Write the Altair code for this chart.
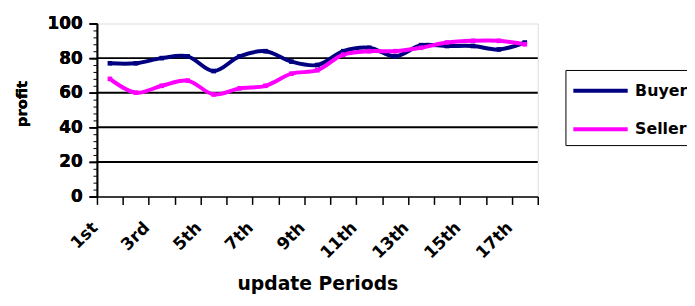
import altair as alt
import pandas as pd

periods = ["1st", "2nd", "3rd", "4th", "5th", "6th", "7th", "8th", "9th",
           "10th", "11th", "12th", "13th", "14th", "15th", "16th", "17th"]
buyer = [77, 77, 80, 81, 72.5, 81, 84, 78, 76, 84, 86, 81, 87.5, 87, 87, 85, 89]
seller = [68, 60, 64, 67, 59, 62.5, 64, 71, 73, 82, 84, 84, 86, 89, 90, 90, 88]
series_names = ["Buyer", "Seller"]
series_colors = ["#000080", "#FF00FF"]
y_ticks = [0, 20, 40, 60, 80, 100]
grid_values = [20, 40, 60, 80]
minor_ticks = list(range(0, 101, 4))

rows = []
for i, p in enumerate(periods):
    rows.append({"pos": i + 0.5, "period": p, "series": "Buyer", "profit": buyer[i]})
    rows.append({"pos": i + 0.5, "period": p, "series": "Seller", "profit": seller[i]})
df = pd.DataFrame(rows)
grid_df = pd.DataFrame({"profit": grid_values})

n = len(periods)
label_list = [p if i % 2 == 0 else "" for i, p in enumerate(periods)] + [""]
label_expr = "[" + ",".join("'%s'" % l for l in label_list) + "][datum.value]"

WIDE = "DejaVu Sans"

xscale = alt.Scale(domain=[0, n], nice=False, zero=False)
yscale = alt.Scale(domain=[0, 100], nice=False)

x_axis = alt.Axis(
    values=list(range(n + 1)), labelExpr=label_expr, title="update Periods",
    grid=False, labelAngle=-45, labelAlign="right", labelBaseline="top",
    labelFont=WIDE, labelFontSize=17, labelFontWeight="bold", labelColor="black",
    labelPadding=15, labelOffset=-8, labelOverlap=False, labelBound=False, labelFlush=False,
    tickSize=8, tickColor="black", tickWidth=1.5, domainColor="black", domainWidth=1.5,
    titleFont=WIDE, titleFontSize=19, titleFontWeight="bold", titleColor="black",
    titleX=223, titleY=88, titleBaseline="middle", titleAlign="center", titleAnchor="middle")

y_axis = alt.Axis(
    values=y_ticks, title="profit", grid=False, orient="left",
    labelFont=WIDE, labelFontSize=17, labelFontWeight="bold", labelColor="black",
    labelPadding=7, tickSize=8, tickColor="black", tickWidth=1.5,
    domainColor="black", domainWidth=1.5,
    titleFont=WIDE, titleFontSize=15, titleFontWeight="bold", titleColor="black",
    titleX=-76, titleY=81, titleAngle=270, titleBaseline="middle", titleAlign="center")

x_main = alt.X("pos:Q", scale=xscale, axis=x_axis)
y_main = alt.Y("profit:Q", scale=yscale, axis=y_axis)

color_scale = alt.Scale(domain=series_names, range=series_colors)
color = alt.Color("series:N", scale=color_scale,
                  legend=alt.Legend(orient="none", legendX=474, legendY=47, title=None,
                                    symbolType="M-2.5,0H2.5", symbolStrokeWidth=4, symbolSize=484,
                                    symbolOffset=14.5,
                                    labelFont=WIDE, labelFontSize=16, labelFontWeight="bold",
                                    labelColor="black", strokeColor="black", fillColor="white",
                                    padding=8, rowPadding=18, labelOffset=22))

grid = alt.Chart(grid_df).mark_rule(color="black", strokeWidth=2).encode(
    y=alt.Y("profit:Q", scale=yscale, axis=y_axis))

minor = alt.Chart(grid_df).mark_rule(opacity=0).encode(
    y=alt.Y("profit:Q", scale=yscale, axis=alt.Axis(
        values=minor_ticks, labels=False, domain=False, grid=False, title=None,
        orient="left", tickSize=4, tickColor="black", tickWidth=1)))

lines = alt.Chart(df).mark_line(interpolate="catmull-rom", strokeWidth=4).encode(
    x=x_main, y=y_main, color=color, detail="series:N")

points = alt.Chart(df).mark_point(shape="square", filled=True, size=22, opacity=1).encode(
    x=x_main, y=y_main, color=alt.Color("series:N", scale=color_scale, legend=None))

chart = alt.layer(grid, minor, lines, points).resolve_axis(y="independent").properties(
    width=446, height=175,
    autosize=alt.AutoSizeParams(type="none"),
    padding={"left": 90, "top": 14, "right": 151, "bottom": 101},
).configure_view(fill="#C0C0C0", stroke="#808080", strokeWidth=2).configure(background="white")

chart.save("out.html", embed_options={"renderer": "svg", "actions": False})
